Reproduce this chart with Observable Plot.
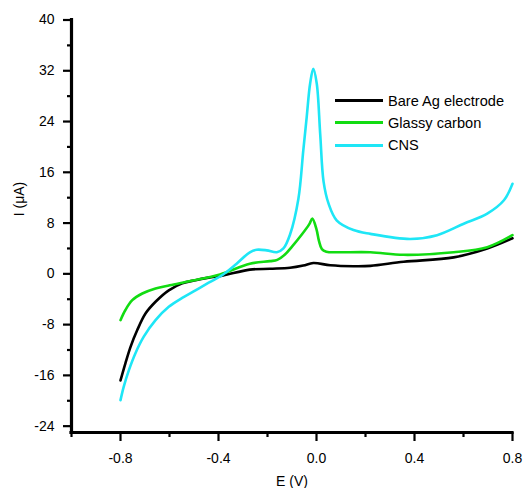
<!DOCTYPE html>
<html>
<head>
<meta charset="utf-8">
<script src="https://cdn.jsdelivr.net/npm/d3@7"></script>
<script src="https://cdn.jsdelivr.net/npm/@observablehq/plot@0.6"></script>
<style>
  html, body { margin: 0; padding: 0; background: #fff; }
  #wrap { position: relative; width: 523px; height: 488px; font-family: "Liberation Sans", Arial, sans-serif; }
  #legend { position: absolute; left: 335px; top: 89.6px; font-size: 14.6px; color: #000; }
  #legend .row { display: flex; align-items: center; height: 22.2px; }
  #legend .sw { width: 48px; height: 0; border-top: 3px solid; margin-right: 5px; }
</style>
</head>
<body>
<div id="wrap"></div>
<script>
// ---- data ----
const seriesNames = ["Bare Ag electrode", "Glassy carbon", "CNS"];
const seriesColors = ["#000000", "#12dc12", "#1ee6f6"];

const bareE = [-0.8, -0.78, -0.759, -0.732, -0.698, -0.657, -0.603, -0.548, -0.494, -0.44, -0.381, -0.272, -0.19, -0.108, -0.054, -0.013, 0.056, 0.151, 0.22, 0.356, 0.56, 0.697, 0.8];
const bareI = [-16.8, -14.1, -11.5, -8.9, -6.25, -4.4, -2.6, -1.5, -1.0, -0.6, -0.24, 0.66, 0.8, 0.95, 1.3, 1.7, 1.35, 1.2, 1.25, 1.9, 2.6, 4.0, 5.6];

const gcE = [-0.8, -0.78, -0.752, -0.711, -0.657, -0.599, -0.51, -0.394, -0.272, -0.19, -0.16, -0.13, -0.1, -0.06, -0.03, -0.017, 0.0, 0.01, 0.022, 0.04, 0.083, 0.22, 0.356, 0.56, 0.697, 0.8];
const gcI = [-7.3, -5.7, -4.15, -3.1, -2.3, -1.8, -1.1, -0.1, 1.6, 2.0, 2.2, 3.0, 4.3, 6.2, 7.8, 8.7, 7.0, 5.2, 3.9, 3.5, 3.4, 3.4, 3.0, 3.4, 4.2, 6.1];

const cnsE = [-0.8, -0.787, -0.766, -0.739, -0.705, -0.657, -0.603, -0.548, -0.494, -0.44, -0.381, -0.326, -0.272, -0.244, -0.203, -0.162, -0.135, -0.108, -0.074, -0.054, -0.04, -0.026, -0.013, 0.001, 0.015, 0.029, 0.049, 0.083, 0.151, 0.22, 0.383, 0.492, 0.601, 0.697, 0.765, 0.8];
const cnsI = [-19.9, -17.8, -15.2, -12.5, -9.9, -7.3, -5.2, -3.8, -2.6, -1.4, -0.1, 1.6, 3.4, 3.8, 3.7, 3.4, 4.0, 6.2, 11.8, 19.4, 24.7, 30.0, 32.3, 30.0, 22.1, 14.5, 11.1, 8.4, 6.9, 6.3, 5.5, 6.1, 7.9, 9.5, 11.6, 14.2];

const xMajor = [-0.8, -0.4, 0.0, 0.4, 0.8];
const xMinor = [-1.0, -0.6, -0.2, 0.2, 0.6];
const yMajor = [-24, -16, -8, 0, 8, 16, 24, 32, 40];
const yMinor = [-20, -12, -4, 4, 12, 20, 28, 36];
const xDomain = [-1.0, 0.8];
const yDomain = [-25, 40];

const toRows = (E, I, s) => E.map((e, i) => ({E: e, I: I[i], s}));
const rows = [
  ...toRows(bareE, bareI, seriesNames[0]),
  ...toRows(gcE, gcI, seriesNames[1]),
  ...toRows(cnsE, cnsI, seriesNames[2])
];

const chart = Plot.plot({
  width: 523,
  height: 488,
  marginLeft: 71,
  marginRight: 11,
  marginTop: 19.5,
  marginBottom: 56,
  style: {fontFamily: '"Liberation Sans", Arial, sans-serif', fontSize: "14px", color: "#000", background: "#fff"},
  x: {domain: xDomain},
  y: {domain: yDomain},
  color: {domain: seriesNames, range: seriesColors},
  marks: [
    Plot.axisX({ticks: xMajor, tickSize: 9, tickPadding: 12, strokeWidth: 2.2, fontSize: 14, label: null, tickFormat: d => d.toFixed(1)}),
    Plot.axisX({ticks: xMinor, tickSize: 5, strokeWidth: 2.2, label: null, tickFormat: () => ""}),
    Plot.axisY({ticks: yMajor, tickSize: 8, tickPadding: 9, strokeWidth: 2.2, fontSize: 14, label: null, tickFormat: d => String(d)}),
    Plot.axisY({ticks: yMinor, tickSize: 4, strokeWidth: 2.2, label: null, tickFormat: () => ""}),
    Plot.ruleX([xDomain[0]], {strokeWidth: 3.2, strokeLinecap: "square"}),
    Plot.ruleY([yDomain[0]], {strokeWidth: 3.2, strokeLinecap: "square"}),
    Plot.line(rows, {x: "E", y: "I", z: "s", stroke: "s", strokeWidth: 2.6, curve: "catmull-rom"}),
    Plot.text(["E (V)"], {frameAnchor: "bottom", dy: 49, fontSize: 14, lineAnchor: "middle"}),
    Plot.text(["I (\u03bcA)"], {frameAnchor: "left", rotate: -90, dx: -52, dy: -10, fontSize: 14, lineAnchor: "middle"})
  ]
});

const wrap = document.getElementById("wrap");
wrap.appendChild(chart);

const legend = document.createElement("div");
legend.id = "legend";
seriesNames.forEach((n, i) => {
  const row = document.createElement("div");
  row.className = "row";
  const sw = document.createElement("span");
  sw.className = "sw";
  sw.style.borderTopColor = seriesColors[i];
  const t = document.createElement("span");
  t.textContent = n;
  row.appendChild(sw);
  row.appendChild(t);
  legend.appendChild(row);
});
wrap.appendChild(legend);
</script>
</body>
</html>
